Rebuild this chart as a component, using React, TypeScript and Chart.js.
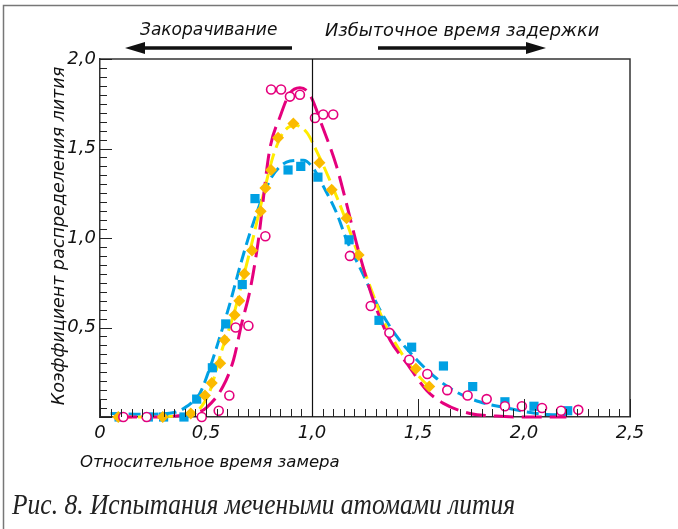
import React, { useEffect, useRef } from "react";
import { Chart, registerables } from "chart.js";

Chart.register(...registerables);

// ---- data ----
const xTickValues = [0, 0.5, 1.0, 1.5, 2.0, 2.5];
const yTickValues = [0, 0.5, 1.0, 1.5, 2.0];

const pinkCurveX = [0.08, 0.2, 0.35, 0.45, 0.5, 0.58, 0.63, 0.668, 0.708, 0.745, 0.8, 0.85, 0.896, 0.943, 0.99, 1.05, 1.116, 1.163, 1.21, 1.29, 1.368, 1.447, 1.54, 1.62, 1.745, 1.87, 2.0, 2.2];
const pinkCurveY = [0.0, 0.0, 0.005, 0.02, 0.05, 0.17, 0.32, 0.52, 0.71, 0.97, 1.49, 1.68, 1.81, 1.84, 1.8, 1.62, 1.4, 1.19, 0.97, 0.65, 0.43, 0.3, 0.15, 0.076, 0.02, 0.005, 0.0, 0.0];

const yellowCurveX = [0.08, 0.2, 0.35, 0.43, 0.48, 0.52, 0.574, 0.63, 0.676, 0.72, 0.78, 0.82, 0.865, 0.92, 0.975, 1.02, 1.085, 1.15, 1.22, 1.258, 1.336, 1.415, 1.51, 1.57];
const yellowCurveY = [0.0, 0.0, 0.005, 0.02, 0.06, 0.15, 0.37, 0.57, 0.78, 0.99, 1.29, 1.47, 1.59, 1.63, 1.59, 1.49, 1.32, 1.13, 0.9, 0.78, 0.54, 0.37, 0.22, 0.15];

const blueCurveX = [0.05, 0.2, 0.35, 0.41, 0.47, 0.52, 0.566, 0.613, 0.66, 0.708, 0.8, 0.85, 0.896, 0.96, 1.006, 1.053, 1.116, 1.163, 1.24, 1.32, 1.4, 1.494, 1.588, 1.68, 1.79, 1.92, 2.06, 2.2];
const blueCurveY = [0.02, 0.015, 0.025, 0.06, 0.13, 0.28, 0.45, 0.635, 0.84, 1.03, 1.32, 1.4, 1.43, 1.435, 1.39, 1.29, 1.14, 0.99, 0.8, 0.6, 0.45, 0.32, 0.215, 0.14, 0.085, 0.05, 0.02, 0.01];

const circleX = [0.11, 0.22, 0.48, 0.56, 0.61, 0.64, 0.7, 0.78, 0.807, 0.854, 0.896, 0.943, 1.014, 1.053, 1.1, 1.179, 1.277, 1.365, 1.459, 1.544, 1.638, 1.734, 1.824, 1.91, 1.99, 2.085, 2.175, 2.256];
const circleY = [0.0, 0.0, 0.0, 0.035, 0.12, 0.5, 0.51, 1.01, 1.83, 1.83, 1.79, 1.8, 1.67, 1.69, 1.69, 0.9, 0.62, 0.47, 0.32, 0.24, 0.15, 0.12, 0.1, 0.06, 0.06, 0.05, 0.035, 0.04];

const diamondX = [0.086, 0.296, 0.428, 0.495, 0.527, 0.567, 0.588, 0.635, 0.657, 0.681, 0.717, 0.758, 0.78, 0.807, 0.84, 0.912, 1.035, 1.093, 1.163, 1.22, 1.49, 1.553];
const diamondY = [0.0, 0.0, 0.02, 0.12, 0.19, 0.3, 0.43, 0.57, 0.65, 0.8, 0.93, 1.15, 1.28, 1.38, 1.56, 1.64, 1.42, 1.27, 1.11, 0.905, 0.27, 0.17];

const squareX = [0.09, 0.228, 0.3, 0.396, 0.456, 0.53, 0.593, 0.671, 0.731, 0.887, 0.947, 1.028, 1.175, 1.316, 1.47, 1.62, 1.758, 1.91, 2.047, 2.206];
const squareY = [0.0, 0.0, 0.0, 0.0, 0.1, 0.275, 0.52, 0.74, 1.22, 1.38, 1.4, 1.34, 0.99, 0.54, 0.39, 0.285, 0.17, 0.085, 0.06, 0.035];

const topLeftLabel = "Закорачивание";
const topRightLabel = "Избыточное время задержки";
const yTitle = "Коэффициент распределения лития";
const xTitle = "Относительное время замера";
const caption = "Рис. 8. Испытания мечеными атомами лития";

const PINK = "#E5007D";
const YELLOW = "#FFEC00";
const ORANGE = "#FBBA00";
const BLUE = "#00A0E3";

const pts = (xs: number[], ys: number[]) => xs.map((x, i) => ({ x, y: ys[i] }));
const fmt = (v: number) => (v === 0 ? "0" : v.toFixed(1).replace(".", ","));

const SANS = '"DejaVu Sans", "Noto Sans", sans-serif';

const decor = {
  id: "decor",
  beforeDraw(chart: any) {
    const { ctx } = chart;
    ctx.save();
    ctx.fillStyle = "#fff";
    ctx.fillRect(0, 0, chart.width, chart.height);
    ctx.restore();
  },
  afterDraw(chart: any) {
    const { ctx, chartArea: a } = chart;
    const xs = chart.scales.x;
    const ys = chart.scales.y;
    ctx.save();
    // outer frame (left and top only)
    ctx.strokeStyle = "#777";
    ctx.lineWidth = 1.5;
    ctx.beginPath();
    ctx.moveTo(3.5, chart.height);
    ctx.lineTo(3.5, 5.5);
    ctx.lineTo(chart.width, 5.5);
    ctx.stroke();

    // plot box (top, right)
    ctx.strokeStyle = "#333";
    ctx.lineWidth = 1.5;
    ctx.beginPath();
    ctx.moveTo(a.left, a.top);
    ctx.lineTo(a.right, a.top);
    ctx.lineTo(a.right, a.bottom);
    ctx.stroke();

    // inner ticks
    ctx.lineWidth = 1;
    ctx.strokeStyle = "#222";
    ctx.beginPath();
    for (let i = 0; i <= 50; i++) {
      const px = Math.round(xs.getPixelForValue(i * 0.05)) + 0.5;
      const len = i % 10 === 0 ? 18 : 8;
      ctx.moveTo(px, a.bottom);
      ctx.lineTo(px, a.bottom - len);
    }
    for (let i = 0; i <= 40; i++) {
      const py = Math.round(ys.getPixelForValue(i * 0.05)) + 0.5;
      const len = i % 10 === 0 ? 12 : 7;
      ctx.moveTo(a.left, py);
      ctx.lineTo(a.left + len, py);
    }
    ctx.stroke();

    // vertical line at x = 1.0
    const x1 = Math.round(xs.getPixelForValue(1.0)) + 0.5;
    ctx.beginPath();
    ctx.strokeStyle = "#111";
    ctx.lineWidth = 1.2;
    ctx.moveTo(x1, a.top);
    ctx.lineTo(x1, a.bottom);
    ctx.stroke();

    // top labels
    ctx.fillStyle = "#111";
    ctx.textBaseline = "middle";
    ctx.textAlign = "left";
    ctx.font = `italic 17px ${SANS}`;
    ctx.fillText(topLeftLabel, 140, 31);
    ctx.font = `italic 17.8px ${SANS}`;
    ctx.fillText(topRightLabel, 325, 31);

    // arrows
    ctx.strokeStyle = "#111";
    ctx.fillStyle = "#111";
    ctx.lineWidth = 3.5;
    ctx.beginPath();
    ctx.moveTo(292, 48);
    ctx.lineTo(140, 48);
    ctx.stroke();
    ctx.beginPath();
    ctx.moveTo(125, 48);
    ctx.lineTo(145, 42);
    ctx.lineTo(145, 54);
    ctx.closePath();
    ctx.fill();
    ctx.beginPath();
    ctx.moveTo(378, 48);
    ctx.lineTo(530, 48);
    ctx.stroke();
    ctx.beginPath();
    ctx.moveTo(546, 48);
    ctx.lineTo(526, 42);
    ctx.lineTo(526, 54);
    ctx.closePath();
    ctx.fill();

    // y title
    ctx.save();
    ctx.translate(59, 236);
    ctx.rotate(-Math.PI / 2);
    ctx.textAlign = "center";
    ctx.font = `italic 17.5px ${SANS}`;
    ctx.fillText(yTitle, 0, 0);
    ctx.restore();

    // x title
    ctx.textAlign = "left";
    ctx.font = `italic 16.5px ${SANS}`;
    ctx.fillText(xTitle, 80, 463);

    // caption (condensed serif italic)
    ctx.save();
    ctx.translate(12, 506);
    ctx.scale(0.85, 1);
    ctx.font = 'italic 30px "Liberation Serif", "DejaVu Serif", serif';
    ctx.fillStyle = "#222";
    ctx.fillText(caption, 0, 0);
    ctx.restore();
    ctx.restore();
  },
};

export default function App() {
  const ref = useRef<HTMLCanvasElement | null>(null);
  useEffect(() => {
    if (!ref.current) return;
    const lineBase = {
      showLine: true,
      pointRadius: 0,
      borderWidth: 3,
      fill: false,
      cubicInterpolationMode: "monotone" as const,
      clip: false as any,
    };
    const chart = new Chart(ref.current, {
      type: "line",
      data: {
        datasets: [
          {
            label: "circles",
            data: pts(circleX, circleY),
            showLine: false,
            pointStyle: "circle",
            pointRadius: 4.5,
            pointBorderWidth: 1.6,
            pointBorderColor: PINK,
            pointBackgroundColor: "#fff",
            borderColor: PINK,
            clip: false as any,
            order: 1,
          },
          {
            label: "diamonds",
            data: pts(diamondX, diamondY),
            showLine: false,
            pointStyle: "rectRot",
            pointRadius: 6,
            pointBorderWidth: 0,
            pointBackgroundColor: ORANGE,
            pointBorderColor: ORANGE,
            borderColor: ORANGE,
            clip: false as any,
            order: 2,
          },
          {
            label: "squares",
            data: pts(squareX, squareY),
            showLine: false,
            pointStyle: "rect",
            pointRadius: 6.5,
            pointBorderWidth: 0,
            pointBackgroundColor: BLUE,
            pointBorderColor: BLUE,
            borderColor: BLUE,
            clip: false as any,
            order: 3,
          },
          {
            ...lineBase,
            label: "pinkCurve",
            data: pts(pinkCurveX, pinkCurveY),
            borderColor: PINK,
            borderDash: [20, 8],
            order: 4,
          },
          {
            ...lineBase,
            label: "yellowCurve",
            data: pts(yellowCurveX, yellowCurveY),
            borderColor: YELLOW,
            borderDash: [15, 6],
            order: 5,
          },
          {
            ...lineBase,
            label: "blueCurve",
            data: pts(blueCurveX, blueCurveY),
            borderColor: BLUE,
            borderDash: [12, 6],
            order: 6,
          },
        ],
      },
      options: {
        animation: false,
        responsive: false,
        maintainAspectRatio: false,
        events: [],
        layout: { padding: { left: 0, top: 59, right: 48, bottom: 0 } },
        plugins: {
          legend: { display: false },
          tooltip: { enabled: false },
        },
        scales: {
          x: {
            type: "linear",
            min: 0,
            max: 2.5,
            afterFit: (s: any) => {
              s.height = 112;
            },
            afterBuildTicks: (s: any) => {
              s.ticks = xTickValues.map((v) => ({ value: v }));
            },
            grid: { display: false, drawTicks: false },
            border: { display: true, color: "#333", width: 1.5 },
            ticks: {
              padding: 6,
              color: "#111",
              font: { family: SANS, size: 18, style: "italic" },
              callback: (v: any) => fmt(Number(v)),
              maxRotation: 0,
            },
          },
          y: {
            type: "linear",
            min: 0,
            max: 2.0,
            afterFit: (s: any) => {
              s.width = 100;
            },
            afterBuildTicks: (s: any) => {
              s.ticks = yTickValues.map((v) => ({ value: v }));
            },
            grid: { display: false, drawTicks: false },
            border: { display: true, color: "#333", width: 1.5 },
            ticks: {
              padding: 4,
              color: "#111",
              font: { family: SANS, size: 18, style: "italic" },
              callback: (v: any) => (Number(v) === 0 ? "" : fmt(Number(v))),
            },
          },
        },
      },
      plugins: [decor],
    });
    return () => chart.destroy();
  }, []);
  return (
    <div style={{ position: "absolute", left: 0, top: 0, width: 678, height: 529 }}>
      <canvas ref={ref} width={678} height={529} style={{ display: "block" }} />
    </div>
  );
}
